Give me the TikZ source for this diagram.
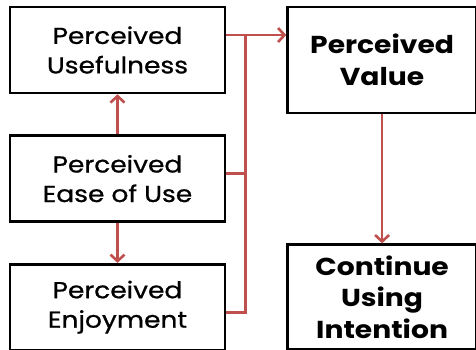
\documentclass[tikz,border=0pt]{standalone}
\usepackage{fontspec}
\setmainfont{Poppins}[FakeStretch=1.15, UprightFeatures={FakeBold=0.8}]
\usetikzlibrary{arrows.meta,positioning}

\definecolor{linkred}{RGB}{192,80,77}

\begin{document}
\begin{tikzpicture}[
	x=1pt, y=1pt,
	font=\fontsize{23}{29.5}\selectfont,
	node distance=40pt,
	box/.style={
		rectangle,
		draw,
		line width=2.6pt,
		minimum width=215pt,
		minimum height=86pt,
		inner sep=0pt,
		align=center
	},
	factor/.style={
		box
	},
	outcome/.style={
		box,
		minimum width=189pt,
		font=\fontsize{24.5}{31.5}\selectfont\bfseries
	},
	link/.style={
		draw=linkred,
		line width=2.6pt
	},
	arrow/.style={
		link,
		-{Straight Barb[length=6.5pt,width=14pt,line width=2.6pt]}
	}
	]
	\useasboundingbox (0,0) rectangle (476,349);
	% Antecedents
	\node[factor] (pu) at (117.5,299) {Perceived\\Usefulness};
	\node[factor, below=of pu] (peu) {Perceived\\Ease of Use};
	\node[factor, below=of peu] (pe) {Perceived\\Enjoyment};
	% Outcomes
	\node[outcome, minimum height=106pt, right=60pt of pu.north east, anchor=north west] (pv) {Perceived\\Value};
	\node[outcome, minimum height=105pt, below=129pt of pv] (cui) {Continue\\Using\\Intention};
	% Ease of use to the others
	\draw[arrow] (peu) -- (pu);
	\draw[arrow] (peu) -- (pe);
	% Bus into perceived value
	\coordinate (bus) at ([xshift=19pt,yshift=15pt]pu.east);
	\draw[arrow] ([yshift=15pt]pu.east) -- (bus -| pv.west);
	\draw[link] ([yshift=5pt]peu.east) -- ([yshift=5pt]peu.east -| bus);
	\draw[link] ([yshift=-5pt]pe.east) -| (bus);
	% Value to intention
	\draw[arrow] (pv) -- (cui);
\end{tikzpicture}
\end{document}
